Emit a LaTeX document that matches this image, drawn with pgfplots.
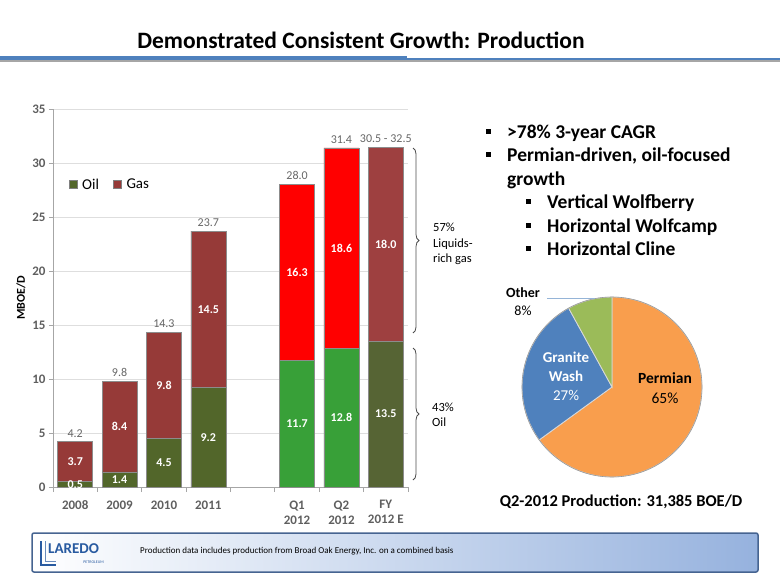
\documentclass[border=0pt]{standalone}
\usepackage{fontspec}
\setmainfont{Carlito}
\usepackage{pgfplots}
\pgfplotsset{compat=1.18}
\usetikzlibrary{decorations.pathreplacing}
\definecolor{oil}{RGB}{82,102,42}
\definecolor{gas}{RGB}{150,58,56}
\definecolor{oilq}{RGB}{56,160,56}
\definecolor{gasq}{RGB}{255,0,0}
\definecolor{oilfy}{RGB}{86,100,52}
\definecolor{gasfy}{RGB}{158,64,64}
\definecolor{pieorange}{RGB}{249,158,77}
\definecolor{pieblue}{RGB}{79,129,189}
\definecolor{piegreen}{RGB}{155,187,89}
\definecolor{titleblue}{RGB}{79,129,189}
\definecolor{tickgray}{RGB}{95,95,95}
\definecolor{footblue}{RGB}{150,178,222}
\definecolor{footborder}{RGB}{70,100,145}
\definecolor{logoblue}{RGB}{40,90,160}
\newcommand\fs[2]{\fontsize{#1bp}{#2bp}\selectfont}
\begin{document}
\begin{tikzpicture}
\path[use as bounding box] (0,0) rectangle (780bp,-585bp);
% title
\node[font=\bfseries\fs{23.5}{27}] at (361bp,-40bp) {Demonstrated Consistent Growth: Production};
\draw[black!35, line width=2bp] (0,-61bp) -- (407bp,-61bp);
\draw[titleblue, line width=4bp] (0,-58bp) -- (407bp,-58bp);
\draw[black!35, line width=1.6bp] (407bp,-61bp) -- (780bp,-61bp);
\draw[titleblue, line width=2.3bp] (407bp,-59bp) -- (780bp,-59bp);

\begin{axis}[
  at={(53bp,-487bp)}, anchor=south west,
  scale only axis, width=355bp, height=378bp,
  xmin=-0.5, xmax=7.5, ymin=0, ymax=35,
  ybar stacked, bar width=35bp,
  axis x line*=bottom, axis y line*=left,
  axis line style={draw=black!35, line width=0.8bp},
  ytick={0,5,...,35},
  ymajorgrids, grid style={draw=black!13, line width=0.7bp},
  xtick={0,...,7},
  xticklabels={2008,2009,2010,2011,{},{Q1\\2012},{Q2\\2012},{FY\\2012 E}},
  minor xtick={-0.5,0.5,...,7.5},
  tick align=outside,
  major tick length=4bp, minor tick length=5bp,
  tick style={draw=black!35, line width=0.8bp},
  major x tick style={draw=none},
  ticklabel style={font=\bfseries\fs{13}{15}, text=tickgray},
  xticklabel style={align=center, yshift=-6bp},
  /pgf/number format/assume math mode=true,
  ylabel={MBOE/D}, ylabel style={font=\bfseries\fs{12}{14}},
  legend style={at={(0.035,0.80)}, anchor=west, draw=none, fill=none,
    legend columns=2, font=\fs{15}{17},
    /tikz/every even column/.append style={column sep=12bp}},
  legend cell align=left,
  every axis plot/.append style={draw=black!45, line width=0.6bp},
]
\addplot[fill=oil, legend image code/.code={\path[fill=oil, draw=black!50, line width=0.5bp] (0bp,-4bp) rectangle (8bp,4bp); \path (11bp,0bp);}] coordinates {(0,0.5) (1,1.4) (2,4.5) (3,9.2) (4,0) (5,0) (6,0) (7,0)};
\addplot[fill=gas, legend image code/.code={\path[fill=gas, draw=black!50, line width=0.5bp] (0bp,-4bp) rectangle (8bp,4bp); \path (11bp,0bp);}] coordinates {(0,3.7) (1,8.4) (2,9.8) (3,14.5) (4,0) (5,0) (6,0) (7,0)};
\addplot[fill=oilq] coordinates {(0,0) (1,0) (2,0) (3,0) (4,0) (5,11.7) (6,12.8) (7,0)};
\addplot[fill=gasq] coordinates {(0,0) (1,0) (2,0) (3,0) (4,0) (5,16.3) (6,18.6) (7,0)};
\addplot[fill=oilfy] coordinates {(0,0) (1,0) (2,0) (3,0) (4,0) (5,0) (6,0) (7,13.5)};
\addplot[fill=gasfy] coordinates {(0,0) (1,0) (2,0) (3,0) (4,0) (5,0) (6,0) (7,18.0)};
\legend{Oil,Gas}
\end{axis}

\begin{axis}[
  at={(53bp,-487bp)}, anchor=south west,
  scale only axis, width=355bp, height=378bp,
  xmin=-0.5, xmax=7.5, ymin=0, ymax=35,
  hide axis, clip=false,
]
\addplot[draw=none, mark=none, nodes near coords, point meta=explicit symbolic,
  nodes near coords align={anchor=center},
  every node near coord/.append style={font=\bfseries\fs{12}{14}, text=white}]
  coordinates {(0,0.25)[0.5] (1,0.7)[1.4] (2,2.25)[4.5] (3,4.6)[9.2] (5,5.85)[11.7] (6,6.4)[12.8] (7,6.75)[13.5]
               (0,2.35)[3.7] (1,5.6)[8.4] (2,9.4)[9.8] (3,16.45)[14.5] (5,19.85)[16.3] (6,22.1)[18.6] (7,22.5)[18.0]};
\addplot[draw=none, mark=none, nodes near coords, point meta=explicit symbolic,
  nodes near coords align={anchor=south},
  every node near coord/.append style={font=\fs{12}{14}, text=black!60, yshift=1bp}]
  coordinates {(0,4.2)[4.2] (1,9.8)[9.8] (2,14.3)[14.3] (3,23.7)[23.7] (5,28.0)[28.0] (6,31.4)[31.4] (7,31.5)[30.5 - 32.5]};
\end{axis}

% braces
\draw[black!70, line width=0.8bp, decorate, decoration={brace, amplitude=6bp}] (413bp,-148bp) -- (413bp,-333bp);
\draw[black!70, line width=0.8bp, decorate, decoration={brace, amplitude=6bp}] (413bp,-348bp) -- (413bp,-480bp);
\node[anchor=west, align=left, font=\fs{12.5}{15.5}, inner sep=0] at (433bp,-244bp) {57\%\\Liquids-\\rich gas};
\node[anchor=west, align=left, font=\fs{12.5}{15.5}, inner sep=0] at (432bp,-415bp) {43\%\\Oil};

% bullets
\foreach \y/\t in {138/{>78\% 3-year CAGR}, 161.5/{Permian-driven, oil-focused}}{
  \fill (486bp,-\y bp+4.5bp) rectangle (491bp,-\y bp+9.5bp);
  \node[anchor=base west, inner sep=0, font=\bfseries\fs{19.5}{22}] at (507bp,-\y bp) {\t};
}
\node[anchor=base west, inner sep=0, font=\bfseries\fs{19.5}{22}] at (507bp,-185bp) {growth};
\foreach \y/\t in {208.5/{Vertical Wolfberry}, 232/{Horizontal Wolfcamp}, 255.5/{Horizontal Cline}}{
  \fill (526bp,-\y bp+4.5bp) rectangle (531bp,-\y bp+9.5bp);
  \node[anchor=base west, inner sep=0, font=\bfseries\fs{19.5}{22}] at (547bp,-\y bp) {\t};
}

% pie (start offset / share / colour)
\foreach \a/\b/\c in {0/65/pieorange, 65/27/pieblue, 92/8/piegreen}{
  \pgfmathsetmacro\s{90-3.6*\a}
  \pgfmathsetmacro\e{90-3.6*(\a+\b)}
  \fill[\c, draw=white!85!black, line width=0.8bp] (612bp,-387bp) -- ++(\s:90bp) arc[start angle=\s, end angle=\e, radius=90bp] -- cycle;
}
\draw[black!40, line width=0.6bp] (612bp,-387bp) circle[radius=90bp];
\node[font=\bfseries\fs{15.5}{17}] at (665bp,-378bp) {Permian};
\node[font=\fs{15.5}{17}] at (665bp,-398bp) {65\%};
\node[font=\bfseries\fs{15}{17}, text=white] at (566bp,-357bp) {Granite};
\node[font=\bfseries\fs{15}{17}, text=white] at (566bp,-376bp) {Wash};
\node[font=\fs{15}{17}, text=white] at (566bp,-395bp) {27\%};
\node[font=\bfseries\fs{14}{16}] at (523bp,-293bp) {Other};
\node[font=\fs{14}{16}] at (523bp,-311bp) {8\%};
\draw[pieblue!60, line width=0.8bp] (547bp,-298bp) -- (595bp,-298bp);
\node[font=\bfseries\fs{16.5}{19}] at (621bp,-502bp) {Q2-2012 Production: 31,385 BOE/D};

% footer
\shade[left color=white, right color=footblue, rounded corners=2bp] (32bp,-533bp) rectangle (758bp,-572bp);
\draw[footborder, line width=1.5bp, rounded corners=2bp] (32bp,-533bp) rectangle (758bp,-572bp);
\draw[logoblue, line width=1.2bp] (41bp,-541bp) -- (41bp,-565bp) -- (56bp,-565bp);
\draw[logoblue!70, line width=1bp] (45bp,-541bp) -- (45bp,-561bp) -- (56bp,-561bp);
\node[anchor=west, inner sep=0, font=\bfseries\fs{15}{17}, text=logoblue] at (48bp,-549bp) {LAREDO};
\node[anchor=east, inner sep=0, font=\fs{4}{5}, text=logoblue] at (104bp,-562bp) {PETROLEUM};
\node[anchor=west, inner sep=0, font=\fs{9}{11}] at (140bp,-551bp) {Production data includes production from Broad Oak Energy, Inc. on a combined basis};
\end{tikzpicture}
\end{document}
